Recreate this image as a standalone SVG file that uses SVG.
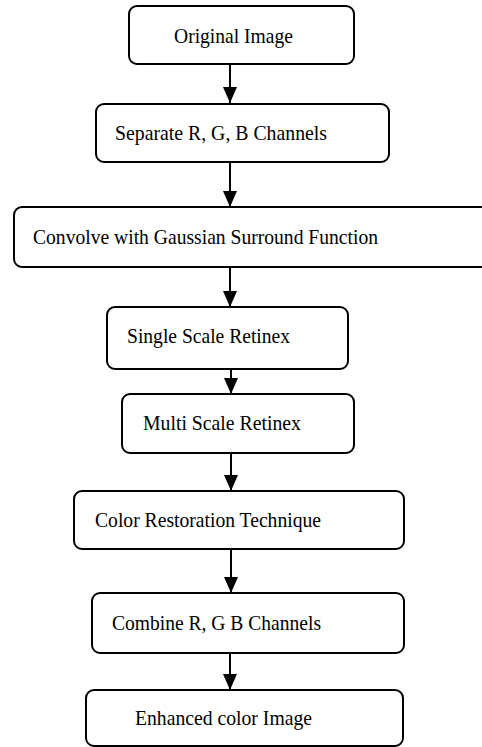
<svg xmlns="http://www.w3.org/2000/svg" width="482" height="747" viewBox="0 0 482 747">
<style>
.box{fill:#fff;stroke:#000;stroke-width:2}
.lbl{font-family:"Liberation Serif","Times New Roman",serif;font-size:21px;fill:#000}
.conn{stroke:#000;stroke-width:2;fill:none}
</style>
<defs>
<marker id="a2" markerUnits="userSpaceOnUse" markerWidth="16" markerHeight="14" refX="16" refY="7" orient="auto" viewBox="0 0 16 14">
<path d="M0,0 L16,7 L0,14 Z" fill="#000"/>
</marker>
</defs>
<rect x="0" y="0" width="482" height="747" fill="#fff"/>
<g id="connectors">
<line class="conn" x1="230" y1="64" x2="230" y2="103" marker-end="url(#a2)"/>
<line class="conn" x1="230" y1="162" x2="230" y2="207" marker-end="url(#a2)"/>
<line class="conn" x1="230" y1="267" x2="230" y2="307" marker-end="url(#a2)"/>
<line class="conn" x1="231" y1="369" x2="231" y2="394" marker-end="url(#a2)"/>
<line class="conn" x1="231" y1="453" x2="231" y2="491" marker-end="url(#a2)"/>
<line class="conn" x1="231" y1="549" x2="231" y2="593" marker-end="url(#a2)"/>
<line class="conn" x1="230" y1="653" x2="230" y2="690" marker-end="url(#a2)"/>
</g>
<g id="n1"><rect class="box" x="129" y="6" width="225" height="58" rx="8"/><text class="lbl" x="174" y="43" textLength="119" lengthAdjust="spacingAndGlyphs">Original Image</text></g>
<g id="n2"><rect class="box" x="96" y="104" width="293" height="58" rx="8"/><text class="lbl" x="115" y="140" textLength="212" lengthAdjust="spacingAndGlyphs">Separate R, G, B Channels</text></g>
<g id="n3"><rect class="box" x="14" y="207" width="480" height="60" rx="8"/><text class="lbl" x="33" y="244" textLength="345" lengthAdjust="spacingAndGlyphs">Convolve with Gaussian Surround Function</text></g>
<g id="n4"><rect class="box" x="107" y="307" width="241" height="62" rx="8"/><text class="lbl" x="127" y="343" textLength="163" lengthAdjust="spacingAndGlyphs">Single Scale Retinex</text></g>
<g id="n5"><rect class="box" x="122" y="394" width="232" height="59" rx="8"/><text class="lbl" x="143" y="430" textLength="158" lengthAdjust="spacingAndGlyphs">Multi Scale Retinex</text></g>
<g id="n6"><rect class="box" x="74" y="491" width="330" height="58" rx="8"/><text class="lbl" x="95" y="527" textLength="226" lengthAdjust="spacingAndGlyphs">Color Restoration Technique</text></g>
<g id="n7"><rect class="box" x="92" y="593" width="312" height="60" rx="8"/><text class="lbl" x="112" y="630" textLength="209" lengthAdjust="spacingAndGlyphs">Combine R, G B Channels</text></g>
<g id="n8"><rect class="box" x="86" y="690" width="317" height="56" rx="8"/><text class="lbl" x="135" y="725" textLength="177" lengthAdjust="spacingAndGlyphs">Enhanced color Image</text></g>
</svg>
